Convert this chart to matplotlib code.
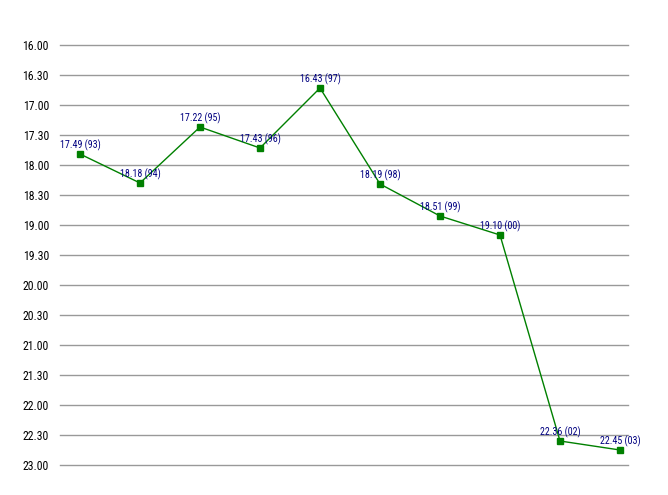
import matplotlib
matplotlib.use("Agg")
import matplotlib.pyplot as plt
from matplotlib import font_manager
from matplotlib.ticker import FuncFormatter

# finishing times (min.sec) by year
years = ["93", "94", "95", "96", "97", "98", "99", "00", "02", "03"]
times = ["17.49", "18.18", "17.22", "17.43", "16.43", "18.19", "18.51", "19.10", "22.36", "22.45"]


def to_sec(s):
    m, sec = s.split(".")
    return int(m) * 60 + int(sec)


secs = [to_sec(t) for t in times]
xs = list(range(len(secs)))

names = {f.name for f in font_manager.fontManager.ttflist}
narrow = [n for n in ["Liberation Sans Narrow", "Arimo Narrow", "Roboto Condensed"] if n in names]
plt.rcParams["font.family"] = narrow + ["Liberation Sans", "DejaVu Sans"]

fig = plt.figure(figsize=(6.68, 4.95), dpi=100)
ax = fig.add_axes([60 / 668, 30 / 495, 568 / 668, 420 / 495])

ax.plot(xs, secs, color="#008000", linewidth=1, marker="s", markersize=4.5,
        markerfacecolor="#008000", markeredgecolor="#008000", zorder=3)

for x, y, t, yr in zip(xs, secs, times, years):
    ax.annotate(f"{t} ({yr})", (x, y), xytext=(0, 2.5), textcoords="offset points",
                ha="center", va="bottom", fontsize=7.2, color="#000080")

ax.set_ylim(23 * 60, 16 * 60)
ax.set_xlim(-1 / 3, 9 + 8 / 60)
ax.set_yticks(range(16 * 60, 23 * 60 + 1, 30))
ax.yaxis.set_major_formatter(FuncFormatter(lambda v, p: f"{int(v) // 60}.{int(v) % 60:02d}"))
ax.set_xticks([])
ax.tick_params(axis="y", length=0, pad=8, labelsize=8.5)
ax.grid(axis="y", color="#999999", linewidth=1)
for gl in ax.get_ygridlines():
    gl.set_clip_on(False)
ax.set_axisbelow(True)
for sp in ax.spines.values():
    sp.set_visible(False)

fig.savefig("out.png", dpi=100)
